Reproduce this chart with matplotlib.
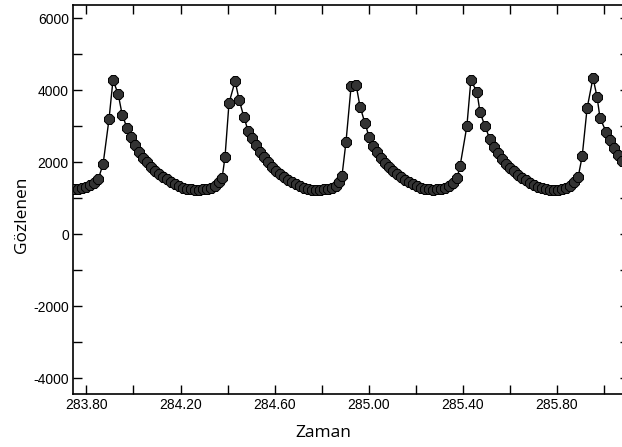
import numpy as np
import matplotlib
matplotlib.use("Agg")
import matplotlib.pyplot as plt
from matplotlib.ticker import MultipleLocator, FixedLocator, FormatStrFormatter

zaman = [
    283.748, 283.765, 283.782, 283.799, 283.816, 283.833, 283.850, 283.871,
    283.896, 283.913, 283.935, 283.952, 283.973, 283.990, 284.007, 284.024,
    284.041, 284.058, 284.075, 284.092, 284.109, 284.126, 284.143, 284.160,
    284.177, 284.194, 284.211, 284.228, 284.245, 284.262, 284.279, 284.296,
    284.313, 284.330, 284.347, 284.364, 284.377, 284.389, 284.406, 284.432,
    284.449,
    284.470, 284.487, 284.504, 284.521, 284.538, 284.555, 284.572, 284.589,
    284.606, 284.623, 284.640, 284.657, 284.674, 284.691, 284.708, 284.725,
    284.742, 284.759, 284.776, 284.793, 284.810, 284.827, 284.844, 284.861,
    284.874, 284.886, 284.903, 284.925, 284.946, 284.963, 284.984, 285.001,
    285.018,
    285.035, 285.052, 285.069, 285.086, 285.103, 285.120, 285.137, 285.154,
    285.171, 285.188, 285.205, 285.222, 285.239, 285.256, 285.273, 285.290,
    285.307, 285.324, 285.341, 285.358, 285.375, 285.388, 285.417, 285.434,
    285.460, 285.473, 285.494, 285.515, 285.532,
    285.550, 285.567, 285.584, 285.601, 285.618, 285.635, 285.652, 285.669,
    285.686, 285.703, 285.720, 285.737, 285.754, 285.771, 285.788, 285.805,
    285.822, 285.839, 285.856, 285.873, 285.890, 285.907, 285.928, 285.953,
    285.970, 285.983, 286.009, 286.026, 286.043, 286.060, 286.077,
]
gozlenen = [
    1250, 1270, 1300, 1330, 1370, 1420, 1530, 1960,
    3200, 4290, 3900, 3330, 2950, 2700, 2480, 2290,
    2130, 2000, 1880, 1770, 1680, 1600, 1530, 1460,
    1400, 1350, 1300, 1270, 1250, 1240, 1240, 1250,
    1270, 1300, 1360, 1450, 1580, 2150, 3650, 4260,
    3740,
    3250, 2880, 2680, 2480, 2300, 2140, 2000, 1880,
    1770, 1680, 1590, 1520, 1450, 1390, 1340, 1290,
    1260, 1240, 1230, 1240, 1250, 1270, 1300, 1360,
    1460, 1620, 2560, 4120, 4160, 3550, 3090, 2720,
    2450,
    2280, 2130, 1990, 1870, 1760, 1670, 1590, 1520,
    1450, 1390, 1340, 1300, 1270, 1250, 1240, 1250,
    1270, 1300, 1360, 1440, 1570, 1900, 3010, 4290,
    3950, 3390, 3010, 2640, 2420,
    2250, 2100, 1970, 1850, 1750, 1660, 1580, 1510,
    1440, 1380, 1330, 1290, 1260, 1240, 1230, 1240,
    1260, 1290, 1340, 1450, 1600, 2170, 3510, 4350,
    3830, 3230, 2850, 2620, 2400, 2200, 2050,
]
x_labeled = [283.8, 284.2, 284.6, 285.0, 285.4, 285.8]
x_minor = [284.0, 284.4, 284.8, 285.2, 285.6, 286.0]

plt.rcParams['axes.unicode_minus'] = False

fig = plt.figure(figsize=(6.22, 4.47), dpi=100)
ax = fig.add_axes([73/622, 1-394/447, 556/622, 389/447])

ax.plot(zaman, gozlenen, color='black', lw=1.0, marker='8', ms=8.5,
        mfc='#333333', mec='black', mew=0.7, zorder=3)

ax.set_xlim(283.743, 286.106)
ax.set_ylim(-4431, 6375)

ax.xaxis.set_major_locator(FixedLocator(x_labeled))
ax.xaxis.set_minor_locator(FixedLocator(x_minor))
ax.xaxis.set_major_formatter(FormatStrFormatter('%.2f'))
ax.yaxis.set_major_locator(MultipleLocator(2000))
ax.yaxis.set_minor_locator(MultipleLocator(1000))

ax.tick_params(which='both', direction='in', length=6.5, width=1.0,
               top=True, right=True, labelsize=10, pad=3)
for lab in ax.get_xticklabels() + ax.get_yticklabels():
    lab.set_family('Liberation Sans')

for s in ax.spines.values():
    s.set_linewidth(1.2)

ax.set_xlabel('Zaman', family='Open Sans', fontsize=12.5)
ax.set_ylabel('Gözlenen', family='Open Sans', fontsize=12.5)
ax.xaxis.set_label_coords(0.4496, -0.100)
ax.yaxis.set_label_coords(-0.0917, 0.46)
ax.xaxis.label.set_va('center')
ax.yaxis.label.set_va('center')

fig.savefig('out.png', dpi=100)
